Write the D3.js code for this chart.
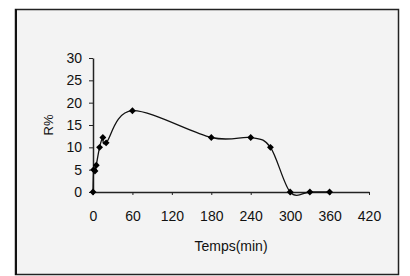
<!DOCTYPE html>
<html>
<head>
<meta charset="utf-8">
<script src="https://cdn.jsdelivr.net/npm/d3@7"></script>
<style>
  body { margin: 0; background: #fff; }
  svg text { font-family: "Liberation Sans", Arial, sans-serif; fill: #111; }
</style>
</head>
<body>
<div id="chart"></div>
<script>
//------------------------DATA------------------------//
const temps = [0, 1, 3, 5, 10, 15, 20, 60, 180, 240, 270, 300, 330, 360];
const rPct  = [0, 5, 4.7, 6, 10, 12.2, 11, 18.2, 12.2, 12.2, 10, 0, 0, 0];
const xTicks = [0, 60, 120, 180, 240, 300, 360, 420];
const yTicks = [0, 5, 10, 15, 20, 25, 30];

//------------------------SVG------------------------//
const W = 410, H = 276;
const svg = d3.select("#chart").append("svg")
  .attr("width", W)
  .attr("height", H);

// frame
svg.append("rect")
  .attr("x", 15.5).attr("y", 9.5)
  .attr("width", 383).attr("height", 265)
  .style("fill", "#f3f3f3")
  .style("stroke", "#222")
  .style("stroke-width", 1.5);
svg.append("line")
  .attr("x1", 16).attr("x2", 16).attr("y1", 9).attr("y2", 275)
  .style("stroke", "#111").style("stroke-width", 2);

//------------------------SCALES------------------------//
const xScale = d3.scaleLinear().domain([0, 420]).range([93, 369]);
const yScale = d3.scaleLinear().domain([0, 30]).range([192, 58]);

//------------------------AXES------------------------//
const xAxis = svg.append("g")
  .attr("transform", "translate(0," + yScale(0) + ")")
  .call(d3.axisBottom(xScale).tickValues(xTicks).tickSize(3).tickSizeOuter(0).tickPadding(16));
const yAxis = svg.append("g")
  .attr("transform", "translate(" + xScale(0) + ",0)")
  .call(d3.axisLeft(yScale).tickValues(yTicks).tickSize(4).tickSizeOuter(0).tickPadding(7));

[xAxis, yAxis].forEach(function(a) {
  a.select(".domain").style("stroke", "#222").style("stroke-width", 1.5);
  a.selectAll(".tick line").style("stroke", "#222");
  a.selectAll(".tick text")
    .style("font-size", "14px")
    .style("font-family", "Liberation Sans, Arial, sans-serif")
    .style("fill", "#111");
});

// axis titles
svg.append("text")
  .attr("x", 231).attr("y", 251)
  .attr("text-anchor", "middle")
  .style("font-size", "14px")
  .text("Temps(min)");
svg.append("text")
  .attr("transform", "translate(53,125) rotate(-90)")
  .attr("text-anchor", "middle")
  .style("font-size", "13px")
  .text("R%");

//------------------------LINE------------------------//
const data = temps.map(function(t, i) { return { t: t, r: rPct[i] }; });

const line = d3.line()
  .x(function(d) { return xScale(d.t); })
  .y(function(d) { return yScale(d.r); })
  .curve(d3.curveCardinal.tension(0));

svg.append("path")
  .datum(data)
  .attr("d", line)
  .style("fill", "none")
  .style("stroke", "#111")
  .style("stroke-width", 1.3);

//------------------------POINTS------------------------//
svg.selectAll(".pt")
  .data(data)
  .enter()
  .append("path")
  .attr("class", "pt")
  .attr("d", d3.symbol().type(d3.symbolDiamond2).size(30))
  .attr("transform", function(d) { return "translate(" + xScale(d.t) + "," + yScale(d.r) + ")"; })
  .style("fill", "#000");
</script>
</body>
</html>
